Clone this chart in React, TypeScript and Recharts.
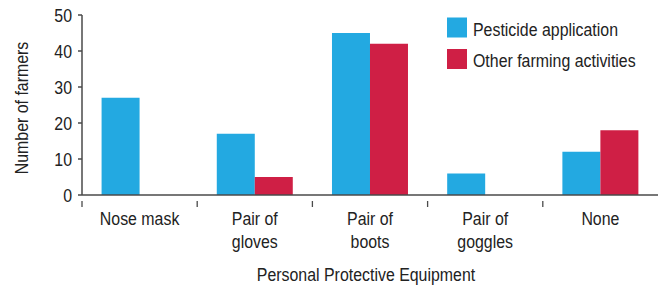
import { Bar, BarChart, Label, XAxis, YAxis } from "recharts";

const categories = ["Nose mask", "Pair of\ngloves", "Pair of\nboots", "Pair of\ngoggles", "None"];
const pesticide = [27, 17, 45, 6, 12];
const otherFarming = [0, 5, 42, 0, 18];
const yTicks = [0, 10, 20, 30, 40, 50];

const data = categories.map((name, i) => ({
  name,
  pesticide: pesticide[i],
  other: otherFarming[i],
}));

const FONT = "'Liberation Sans', Arial, sans-serif";
const FS = 18.5;
const SX = 0.86; // condensed look
const TEXT = "#222";
const AXIS = "#4a4a4a";
const BLUE = "#23a9e1";
const RED = "#cf1f45";

const W = 662;
const H = 291;
const LEFT = 82;
const RIGHT = 4;
const BAND = (W - LEFT - RIGHT) / categories.length;

function NarrowText({ x, y, anchor = "start", rotate = 0, children }: any) {
  return (
    <text
      transform={`translate(${x},${y}) rotate(${rotate}) scale(${SX},1)`}
      x={0}
      y={0}
      textAnchor={anchor}
      fill={TEXT}
      fontSize={FS}
      fontFamily={FONT}
    >
      {children}
    </text>
  );
}

function CategoryTick(props: any) {
  const { x, y, payload } = props;
  const lines = String(payload.value).split("\n");
  return (
    <g>
      <line x1={x - BAND / 2} y1={y - 2} x2={x - BAND / 2} y2={y + 4} stroke={AXIS} strokeWidth={1.3} />
      {lines.map((l, i) => (
        <NarrowText key={i} x={x} y={y + 22 + i * 23} anchor="middle">
          {l}
        </NarrowText>
      ))}
    </g>
  );
}

function ValueTick(props: any) {
  const { x, y, payload } = props;
  return (
    <NarrowText x={x} y={y + 6.5} anchor="end">
      {payload.value}
    </NarrowText>
  );
}

function LegendBlock() {
  const items = [
    { label: "Pesticide application", color: BLUE },
    { label: "Other farming activities", color: RED },
  ];
  return (
    <g>
      {items.map((it, i) => (
        <g key={it.label}>
          <rect x={447} y={17.5 + i * 31.5} width={20} height={20} fill={it.color} />
          <NarrowText x={473} y={36 + i * 30.5}>
            {it.label}
          </NarrowText>
        </g>
      ))}
    </g>
  );
}

export default function App() {
  return (
    <div style={{ position: "absolute", left: 0, top: 0, width: W, height: H, background: "#fff" }}>
      <BarChart
        width={W}
        height={H}
        data={data}
        margin={{ top: 15, right: RIGHT, left: 0, bottom: 0 }}
        barCategoryGap="17%"
        barGap={0}
      >
        <XAxis
          dataKey="name"
          height={96}
          stroke={AXIS}
          strokeWidth={1.5}
          tickLine={false}
          interval={0}
          tick={<CategoryTick />}
        >
          <Label
            content={() => (
              <NarrowText x={366} y={281} anchor="middle">
                Personal Protective Equipment
              </NarrowText>
            )}
          />
        </XAxis>
        <YAxis
          width={LEFT}
          domain={[0, 50]}
          ticks={yTicks}
          interval={0}
          stroke={AXIS}
          strokeWidth={1.5}
          tickSize={4}
          tickMargin={6}
          tick={<ValueTick />}
        >
          <Label
            content={() => (
              <NarrowText x={28} y={108} rotate={-90} anchor="middle">
                Number of farmers
              </NarrowText>
            )}
          />
        </YAxis>
        <Bar dataKey="pesticide" fill={BLUE} isAnimationActive={false} />
        <Bar dataKey="other" fill={RED} isAnimationActive={false} />
        <LegendBlock />
      </BarChart>
    </div>
  );
}
